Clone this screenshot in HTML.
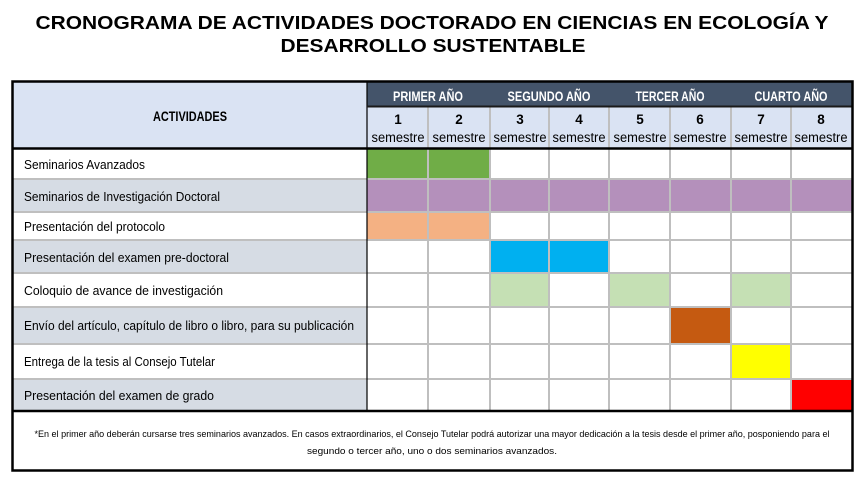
<!DOCTYPE html>
<html><head><meta charset="utf-8"><style>
html,body{margin:0;padding:0;background:#fff;}
svg{display:block;}
text{font-family:"Liberation Sans Narrow","Liberation Sans",sans-serif;}
.t{font-family:"Liberation Sans",sans-serif;font-weight:bold;font-size:18.5px;}
</style></head><body>
<svg width="863" height="483" viewBox="0 0 863 483" xmlns="http://www.w3.org/2000/svg">
<text class="t" x="432" y="29" text-anchor="middle" textLength="793" lengthAdjust="spacingAndGlyphs">CRONOGRAMA DE ACTIVIDADES DOCTORADO EN CIENCIAS EN ECOLOGÍA Y</text>
<text class="t" x="433" y="52" text-anchor="middle" textLength="305" lengthAdjust="spacingAndGlyphs">DESARROLLO SUSTENTABLE</text>

<!-- header backgrounds -->
<rect x="13" y="82" width="354" height="67" fill="#dae3f3"/>
<rect x="367" y="82" width="485" height="25" fill="#44546a"/>
<rect x="367" y="107" width="485" height="42" fill="#dae3f3"/>
<!-- row label bgs -->
<rect x="13" y="149" width="354" height="30" fill="#fff"/>
<rect x="13" y="179" width="354" height="33" fill="#d6dce4"/>
<rect x="13" y="212" width="354" height="28" fill="#fff"/>
<rect x="13" y="240" width="354" height="33" fill="#d6dce4"/>
<rect x="13" y="273" width="354" height="34" fill="#fff"/>
<rect x="13" y="307" width="354" height="37" fill="#d6dce4"/>
<rect x="13" y="344" width="354" height="35" fill="#fff"/>
<rect x="13" y="379" width="354" height="32" fill="#d6dce4"/>

<!-- colored cells -->
<rect x="367" y="149" width="123" height="30" fill="#70ad47"/>
<rect x="367" y="179" width="485" height="33" fill="#b490bb"/>
<rect x="367" y="212" width="123" height="28" fill="#f4b183"/>
<rect x="490" y="240" width="119" height="32" fill="#00b0f0"/>
<rect x="490" y="273" width="59" height="34" fill="#c5e0b4"/>
<rect x="609" y="273" width="61" height="34" fill="#c5e0b4"/>
<rect x="731" y="273" width="60" height="34" fill="#c5e0b4"/>
<rect x="670" y="307" width="61" height="37" fill="#c55a11"/>
<rect x="731" y="344" width="60" height="35" fill="#ffff00"/>
<rect x="791" y="379" width="61" height="32" fill="#ff0000"/>

<!-- grid lines gray -->
<g stroke="#bfbfbf" stroke-width="2">
<line x1="428" y1="107" x2="428" y2="411"/>
<line x1="490" y1="107" x2="490" y2="411"/>
<line x1="549" y1="107" x2="549" y2="411"/>
<line x1="609" y1="107" x2="609" y2="411"/>
<line x1="670" y1="107" x2="670" y2="411"/>
<line x1="731" y1="107" x2="731" y2="411"/>
<line x1="791" y1="107" x2="791" y2="411"/>
<line x1="13" y1="179" x2="852" y2="179"/>
<line x1="13" y1="212" x2="852" y2="212"/>
<line x1="13" y1="240" x2="852" y2="240"/>
<line x1="13" y1="273" x2="852" y2="273"/>
<line x1="13" y1="307" x2="852" y2="307"/>
<line x1="13" y1="344" x2="852" y2="344"/>
<line x1="13" y1="379" x2="852" y2="379"/>
</g>
<!-- black lines -->
<g stroke="#000">
<line x1="367" y1="82" x2="367" y2="411" stroke-width="1.2"/>
<line x1="367" y1="106.5" x2="852" y2="106.5" stroke-width="2" stroke="#1a1a1a"/>
<line x1="13" y1="148.5" x2="852" y2="148.5" stroke-width="2.5"/>
<line x1="13" y1="411" x2="852" y2="411" stroke-width="2.5"/>
<rect x="12.5" y="81.5" width="840" height="389" fill="none" stroke-width="2.5"/>
</g>

<!-- header text -->
<text x="190" y="121" text-anchor="middle" font-size="13.5" font-weight="bold" textLength="74" lengthAdjust="spacingAndGlyphs">ACTIVIDADES</text>
<g fill="#fff" font-size="13.5" font-weight="bold" text-anchor="middle">
<text x="428" y="101" textLength="70" lengthAdjust="spacingAndGlyphs">PRIMER AÑO</text>
<text x="549" y="101" textLength="83" lengthAdjust="spacingAndGlyphs">SEGUNDO AÑO</text>
<text x="670" y="101" textLength="69" lengthAdjust="spacingAndGlyphs">TERCER AÑO</text>
<text x="791" y="101" textLength="73" lengthAdjust="spacingAndGlyphs">CUARTO AÑO</text>
</g>
<g font-size="13.5" text-anchor="middle">
<text x="398" y="124" font-weight="bold">1</text>
<text x="459" y="124" font-weight="bold">2</text>
<text x="520" y="124" font-weight="bold">3</text>
<text x="579" y="124" font-weight="bold">4</text>
<text x="640" y="124" font-weight="bold">5</text>
<text x="700" y="124" font-weight="bold">6</text>
<text x="761" y="124" font-weight="bold">7</text>
<text x="821" y="124" font-weight="bold">8</text>
<text x="398" y="142" textLength="53" lengthAdjust="spacingAndGlyphs">semestre</text>
<text x="459" y="142" textLength="53" lengthAdjust="spacingAndGlyphs">semestre</text>
<text x="520" y="142" textLength="53" lengthAdjust="spacingAndGlyphs">semestre</text>
<text x="579" y="142" textLength="53" lengthAdjust="spacingAndGlyphs">semestre</text>
<text x="640" y="142" textLength="53" lengthAdjust="spacingAndGlyphs">semestre</text>
<text x="700" y="142" textLength="53" lengthAdjust="spacingAndGlyphs">semestre</text>
<text x="761" y="142" textLength="53" lengthAdjust="spacingAndGlyphs">semestre</text>
<text x="821" y="142" textLength="53" lengthAdjust="spacingAndGlyphs">semestre</text>
</g>

<!-- row labels -->
<g font-size="13" lengthAdjust="spacingAndGlyphs">
<text x="24" y="169" textLength="121" lengthAdjust="spacingAndGlyphs">Seminarios Avanzados</text>
<text x="24" y="201" textLength="196" lengthAdjust="spacingAndGlyphs">Seminarios de Investigación Doctoral</text>
<text x="24" y="231" textLength="141" lengthAdjust="spacingAndGlyphs">Presentación del protocolo</text>
<text x="24" y="262" textLength="205" lengthAdjust="spacingAndGlyphs">Presentación del examen pre-doctoral</text>
<text x="24" y="295" textLength="199" lengthAdjust="spacingAndGlyphs">Coloquio de avance de investigación</text>
<text x="24" y="330" textLength="330" lengthAdjust="spacingAndGlyphs">Envío del artículo, capítulo de libro o libro, para su publicación</text>
<text x="24" y="366" textLength="191" lengthAdjust="spacingAndGlyphs">Entrega de la tesis al Consejo Tutelar</text>
<text x="24" y="400" textLength="190" lengthAdjust="spacingAndGlyphs">Presentación del examen de grado</text>
</g>

<!-- footer -->
<g font-size="9.5" text-anchor="middle">
<text x="432" y="437" textLength="795" lengthAdjust="spacingAndGlyphs">*En el primer año deberán cursarse tres seminarios avanzados. En casos extraordinarios, el Consejo Tutelar podrá autorizar una mayor dedicación a la tesis desde el primer año, posponiendo para el</text>
<text x="432" y="454" textLength="250" lengthAdjust="spacingAndGlyphs">segundo o tercer año, uno o dos seminarios avanzados.</text>
</g>
</svg>
</body></html>
